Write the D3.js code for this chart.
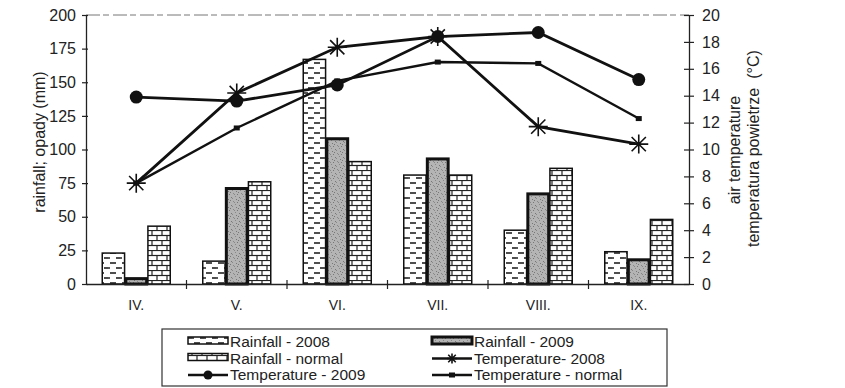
<!DOCTYPE html>
<html><head><meta charset="utf-8">
<script src="https://cdn.jsdelivr.net/npm/d3@7"></script>
<style>body{margin:0;background:#fff}svg{display:block;font-family:"Liberation Sans",Arial,sans-serif}</style>
</head><body><svg id="c" width="845" height="388"></svg>
<script>
const categories = ["IV.","V.","VI.","VII.","VIII.","IX."];
const rain2008 = [23,17,167,81,40,24];
const rain2009 = [4,71,108,93,67,18];
const rainNormal = [43,76,91,81,86,48];
const temp2008 = [7.5,14.2,17.6,18.4,11.7,10.4];
const temp2009 = [13.9,13.6,14.8,18.4,18.7,15.2];
const tempNormal = [7.5,11.6,15.1,16.5,16.4,12.3];
const rainTicks = [0,25,50,75,100,125,150,175,200];
const tempTicks = [0,2,4,6,8,10,12,14,16,18,20];

const svg = d3.select("#c");
const L=86,R=689,T=15,B=284;
const defs = svg.append("defs");
// patterns
const p1 = defs.append("pattern").attr("id","p2008").attr("patternUnits","userSpaceOnUse").attr("width",12).attr("height",10);
p1.append("rect").attr("width",12).attr("height",10).attr("fill","#fff");
p1.append("line").attr("x1",2).attr("x2",8).attr("y1",3).attr("y2",3).attr("stroke","#222").attr("stroke-width",1.6);
p1.append("line").attr("x1",8).attr("x2",14).attr("y1",8).attr("y2",8).attr("stroke","#222").attr("stroke-width",1.6);
p1.append("line").attr("x1",-4).attr("x2",2).attr("y1",8).attr("y2",8).attr("stroke","#222").attr("stroke-width",1.6);
const p2 = defs.append("pattern").attr("id","p2009").attr("patternUnits","userSpaceOnUse").attr("width",8).attr("height",8);
p2.append("rect").attr("width",8).attr("height",8).attr("fill","#b4b4b4");
[[1,1],[5,2],[3,4],[7,5],[0,6],[4,7],[2,2],[6,0]].forEach(([x,y],i)=>p2.append("rect").attr("x",x).attr("y",y).attr("width",1).attr("height",1).attr("fill",i%2?"#777":"#888"));
const p3 = defs.append("pattern").attr("id","pnorm").attr("patternUnits","userSpaceOnUse").attr("width",10).attr("height",10);
p3.append("rect").attr("width",10).attr("height",10).attr("fill","#fff");
p3.append("line").attr("x1",0).attr("x2",10).attr("y1",0.5).attr("y2",0.5).attr("stroke","#222").attr("stroke-width",1.2);
p3.append("line").attr("x1",0).attr("x2",10).attr("y1",5.5).attr("y2",5.5).attr("stroke","#222").attr("stroke-width",1.2);
p3.append("line").attr("x1",2).attr("x2",2).attr("y1",0).attr("y2",5.5).attr("stroke","#222").attr("stroke-width",1.2);
p3.append("line").attr("x1",7).attr("x2",7).attr("y1",5.5).attr("y2",10).attr("stroke","#222").attr("stroke-width",1.2);

const x0 = d3.scaleBand().domain(categories).range([L,R]).padding(0);
const x1 = d3.scaleBand().domain(["a","b","c"]).range([16,x0.bandwidth()-16]).padding(0);
const yL = d3.scaleLinear().domain([0,200]).range([B,T]);
const yR = d3.scaleLinear().domain([0,20]).range([B,T]);

// top faint border
svg.append("line").attr("x1",L).attr("x2",R).attr("y1",T).attr("y2",T).attr("stroke","#777").attr("stroke-width",1).attr("stroke-dasharray","14,3,6,4");

// bars
const series = [{k:"a",v:rain2008,f:"url(#p2008)",sw:1.5},{k:"b",v:rain2009,f:"url(#p2009)",sw:3},{k:"c",v:rainNormal,f:"url(#pnorm)",sw:1.5}];
series.forEach(s=>{
  svg.append("g").selectAll("rect").data(categories).join("rect")
    .attr("x",(d)=>x0(d)+x1(s.k)+s.sw/2-0.5)
    .attr("y",(d,i)=>yL(s.v[i]))
    .attr("width",x1.bandwidth()-s.sw+1)
    .attr("height",(d,i)=>B-yL(s.v[i]))
    .attr("fill",s.f).attr("stroke","#111").attr("stroke-width",s.sw);
});

// axes
const gL = svg.append("g").attr("transform",`translate(${L},0)`).call(d3.axisLeft(yL).tickValues(rainTicks).tickSize(5).tickSizeOuter(0).tickPadding(5));
gL.selectAll("line").attr("x2",-4).attr("x1",2);
const gR = svg.append("g").attr("transform",`translate(${R},0)`).call(d3.axisRight(yR).tickValues(tempTicks).tickSize(5).tickSizeOuter(0).tickPadding(8));
gR.selectAll("line").attr("x1",-5).attr("x2",5);
const gB = svg.append("g").attr("transform",`translate(0,${B})`).call(d3.axisBottom(x0).tickSize(0).tickPadding(16));
svg.append("g").selectAll("line").data(categories.slice(1)).join("line")
  .attr("x1",d=>x0(d)).attr("x2",d=>x0(d)).attr("y1",B-4).attr("y2",B+5).attr("stroke","#222").attr("stroke-width",1.2);
[gL,gR,gB].forEach(g=>{g.selectAll("path.domain").attr("stroke","#222").attr("stroke-width",1.3);g.selectAll("line").attr("stroke","#222").attr("stroke-width",1.2);g.selectAll("text").attr("font-size",16).attr("fill","#222").attr("font-family","Liberation Sans, Arial, sans-serif");});
gB.selectAll("text").attr("font-size",14);

// axis titles
svg.append("text").attr("transform","translate(45,142) rotate(-90)").attr("text-anchor","middle").attr("font-size",16).attr("fill","#222").text("rainfall; opady (mm)");
svg.append("text").attr("transform","translate(740,150) rotate(-90)").attr("text-anchor","middle").attr("font-size",16).attr("fill","#222").text("air temperature");
const rt = svg.append("text").attr("transform","translate(759,247) rotate(-90)").attr("text-anchor","start").attr("font-size",16).attr("fill","#222");
rt.append("tspan").text("temperatura powietrze");
rt.append("tspan").attr("dx",9).text("(°C)");

// lines
const cx = d=>x0(d)+x0.bandwidth()/2;
const line = arr=>d3.line().x((d,i)=>cx(categories[i])).y(d=>yR(d))(arr);
function star(g,x,y,r){
  g.append("path").attr("d",`M${x-r},${y}H${x+r}M${x},${y-r}V${y+r}M${x-r*0.75},${y-r*0.75}L${x+r*0.75},${y+r*0.75}M${x-r*0.75},${y+r*0.75}L${x+r*0.75},${y-r*0.75}`).attr("stroke","#111").attr("stroke-width",1.6).attr("fill","none");
}
svg.append("path").attr("d",line(tempNormal)).attr("fill","none").attr("stroke","#111").attr("stroke-width",2.4);
svg.append("g").selectAll("rect").data(tempNormal).join("rect").attr("x",(d,i)=>cx(categories[i])-3).attr("y",d=>yR(d)-2.5).attr("width",6).attr("height",5).attr("fill","#111");
svg.append("path").attr("d",line(temp2008)).attr("fill","none").attr("stroke","#111").attr("stroke-width",2.8);
const gs = svg.append("g");
temp2008.forEach((d,i)=>star(gs,cx(categories[i]),yR(d),9.5));
svg.append("path").attr("d",line(temp2009)).attr("fill","none").attr("stroke","#111").attr("stroke-width",2.8);
svg.append("g").selectAll("circle").data(temp2009).join("circle").attr("cx",(d,i)=>cx(categories[i])).attr("cy",d=>yR(d)).attr("r",6.5).attr("fill","#111");

// legend
const lg = svg.append("g");
lg.append("rect").attr("x",162).attr("y",329).attr("width",505).attr("height",57).attr("fill","#fff").attr("stroke","#333").attr("stroke-width",1.2);
const items = [
  {t:"Rainfall - 2008",type:"bar",f:"url(#p2008)",sw:1.5,col:0,row:0},
  {t:"Rainfall - 2009",type:"bar",f:"url(#p2009)",sw:3,col:1,row:0},
  {t:"Rainfall - normal",type:"bar",f:"url(#pnorm)",sw:1.5,col:0,row:1},
  {t:"Temperature- 2008",type:"star",col:1,row:1},
  {t:"Temperature - 2009",type:"circle",col:0,row:2},
  {t:"Temperature - normal",type:"sq",col:1,row:2}
];
items.forEach(it=>{
  const sx = it.col?432:188, by = 347+it.row*16.5;
  if(it.type==="bar"){
    lg.append("rect").attr("x",sx).attr("y",by-10).attr("width",40).attr("height",7).attr("fill",it.f).attr("stroke","#111").attr("stroke-width",it.sw);
  } else {
    lg.append("line").attr("x1",sx).attr("x2",sx+40).attr("y1",by-5).attr("y2",by-5).attr("stroke","#111").attr("stroke-width",2.4);
    if(it.type==="circle") lg.append("circle").attr("cx",sx+20).attr("cy",by-5).attr("r",4.5).attr("fill","#111");
    if(it.type==="star") star(lg,sx+20,by-5,5);
    if(it.type==="sq") lg.append("rect").attr("x",sx+17).attr("y",by-7.5).attr("width",6).attr("height",5).attr("fill","#111");
  }
  lg.append("text").attr("x",sx+42).attr("y",by).attr("font-size",15.5).attr("fill","#222").text(it.t);
});
</script></body></html>
